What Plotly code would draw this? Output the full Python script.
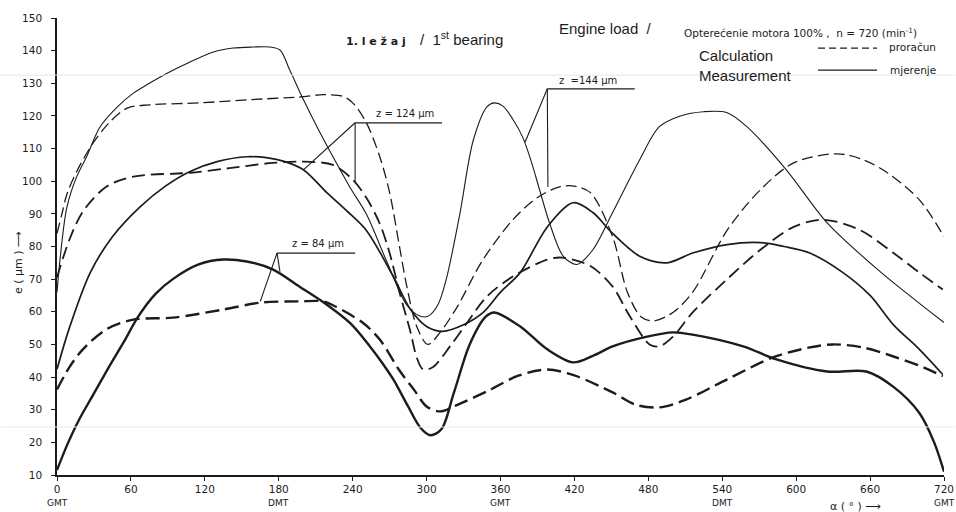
import plotly.graph_objects as go

# Crank angle (deg) and journal eccentricity e (µm), first main bearing
# z = 144 µm
meas_144_x = [0, 3, 8, 16, 24, 35, 49, 62, 75, 89, 105, 127, 143, 159, 173, 181, 189, 200, 211, 224,
              238, 251, 267, 284, 294, 301, 309, 316, 327, 338, 349, 355, 362, 370, 378, 385, 392, 400,
              411, 422, 435, 451, 473, 489, 506, 525, 544, 560, 592, 625, 666, 720]
meas_144_y = [66, 78, 92, 101.4, 107.5, 116.7, 122.8, 127, 130, 133, 136, 139.6, 140.8, 141.1, 141.1,
              140.2, 134, 125, 116.7, 107.5, 98, 90, 76, 62, 58.8, 58.6, 62, 70, 90, 112.7, 122.8, 124,
              123, 119, 113.5, 106, 97, 87, 77, 74.5, 79, 90.4, 106.6, 116.7, 120, 121.3, 121,
              116.7, 103.5, 87.3, 73, 56.7]
calc_144_x = [0, 4, 8, 16, 29.5, 43, 57, 75, 116, 157, 197, 216, 232, 240, 251, 262, 270, 278, 284,
              292, 301, 311, 325, 345, 370, 390, 408, 420, 433, 451, 463, 474, 484, 500, 516, 544, 571,
              598, 633, 655, 674, 700, 720]
calc_144_y = [84, 90, 96, 103, 111.8, 118.2, 122.4, 123.4, 124, 125, 125.8, 126.5, 126, 124, 118, 107.5,
              96.5, 80, 67.7, 55.5, 50, 53.7, 61.6, 75.5, 88.2, 95, 98.3, 98.5, 96.5, 83, 66, 58.5, 57.2,
              59.8, 66, 85, 97.4, 105.6, 108.4, 106.5, 102.6, 94.3, 83]

# z = 124 µm
meas_124_x = [0, 10, 27, 45, 67, 88, 108, 130, 154, 170, 185, 200, 219, 235, 251, 273, 287, 300, 313,
              330, 346, 360, 376, 398, 419, 435, 451, 473, 495, 516, 544, 571, 590, 611, 638, 660, 679,
              700, 719]
meas_124_y = [42.4, 55, 72, 83, 92, 98.5, 103, 106, 107.5, 107.2, 106, 103.5, 96.5, 91, 85, 70.8, 60.7,
              55.5, 54, 56, 59.8, 66, 72, 86, 93.4, 90.4, 84, 77, 75, 78, 80.6, 81.2, 80, 78, 72, 65,
              56, 48.5, 40.8]
calc_124_x = [0, 10, 21, 40, 62, 108, 140, 175, 197, 224, 240, 251, 262, 270, 278, 287, 292, 297, 305,
              319, 333, 349, 370, 398, 410, 433, 451, 465, 481, 489, 500, 516, 544, 571, 598, 622, 652,
              679, 700, 719]
calc_124_y = [70.5, 82, 90.7, 98.3, 101.4, 102.6, 104, 105.6, 106, 105, 100.5, 95, 87, 78, 66, 53.7,
              46, 42.4, 43, 49.4, 56.7, 64.7, 70.8, 76, 76.6, 74, 67.7, 58.6, 50, 49.4, 52.4, 59.8, 70,
              79, 86, 88.2, 85, 78, 72, 66.8]

# z = 84 µm
meas_84_x = [0, 8, 18, 30, 42, 54, 66, 80, 94, 115, 135, 154, 175, 197, 216, 238, 254, 262, 273, 285,
             295, 303, 312, 322, 335, 348, 355, 376, 398, 419, 435, 451, 479, 500, 516, 557, 584, 625,
             657, 679, 700, 712, 720]
meas_84_y = [11.5, 19, 27, 35, 43, 50.6, 58.6, 65.5, 70, 74.5, 76, 75.4, 73, 67.7, 63, 56.5, 49.4,
             45.4, 39.3, 31, 24.5, 22.2, 24, 35, 50, 58.5, 59.8, 55.5, 48.5, 44.5, 46.5, 49.4, 52.4,
             53.7, 53, 49.4, 45.4, 41.7, 41.7, 37, 29, 20, 11]
calc_84_x = [0, 10, 21, 40, 62, 94, 135, 165, 197, 216, 224, 248, 262, 278, 290, 300, 311, 325, 351,
             375, 398, 420, 451, 470, 489, 510, 544, 581, 610, 630, 655, 679, 700, 719]
calc_84_y = [36.2, 43, 48.5, 54.6, 57.6, 58.2, 60.7, 62.8, 63.2, 63.2, 62, 56.7, 51.5, 42, 36, 31, 29.5,
             31.5, 36, 40.5, 42.3, 40.5, 35.3, 31.5, 30.7, 33, 39.3, 46, 49, 50, 49, 46.3, 43.5, 40.3]

x_ticks = [0, 60, 120, 180, 240, 300, 360, 420, 480, 540, 600, 660, 720]
y_ticks = [10, 20, 30, 40, 50, 60, 70, 80, 90, 100, 110, 120, 130, 140, 150]
dead_centres = {0: "GMT", 180: "DMT", 360: "GMT", 540: "DMT", 720: "GMT"}

INK = "#1c1c1c"
STENCIL = "DejaVu Sans"
ARIAL = "Liberation Sans, Arial"

fig = go.Figure()

series = [
    (meas_144_x, meas_144_y, 1.1, "solid"),
    (calc_144_x, calc_144_y, 1.3, "11px,5px"),
    (meas_124_x, meas_124_y, 1.7, "solid"),
    (calc_124_x, calc_124_y, 1.8, "13px,6px"),
    (meas_84_x, meas_84_y, 2.4, "solid"),
    (calc_84_x, calc_84_y, 2.4, "14px,6px"),
]
for xs, ys, w, dash in series:
    fig.add_trace(go.Scatter(x=xs, y=ys, mode="lines",
                             line=dict(color=INK, width=w, dash=dash, shape="spline", smoothing=0.9),
                             hoverinfo="skip", showlegend=False))

# Leader lines for clearance labels (junction, horizontal rule end, curve pointers)
leaders = [
    ((242, 117.9), (312.5, 117.9), [(242, 99.8), (200, 103.5)]),
    ((398, 128.3), (469, 128.3), [(398.5, 98.2), (380, 112)]),
    ((178.6, 78), (242, 78), [(165, 63.2), (181, 72.3)]),
]
shapes = []
for (jx, jy), (hx, hy), ends in leaders:
    shapes.append(dict(type="line", xref="x", yref="y", x0=jx, y0=jy, x1=hx, y1=hy,
                       line=dict(color=INK, width=1.3)))
    for ex, ey in ends:
        shapes.append(dict(type="line", xref="x", yref="y", x0=jx, y0=jy, x1=ex, y1=ey,
                           line=dict(color=INK, width=1.1)))

# Legend line samples
shapes.append(dict(type="line", xref="paper", yref="paper", x0=0.858, x1=0.9245, y0=0.934, y1=0.934,
                   line=dict(color=INK, width=1.3, dash="7px,4px")))
shapes.append(dict(type="line", xref="paper", yref="paper", x0=0.858, x1=0.9245, y0=0.886, y1=0.886,
                   line=dict(color=INK, width=1.3)))

# faint scanner streaks
shapes.append(dict(type="line", xref="paper", yref="paper", x0=-0.064, x1=1.013, y0=0.875, y1=0.875,
                   line=dict(color="#e6e6e6", width=1)))
shapes.append(dict(type="line", xref="paper", yref="paper", x0=-0.064, x1=1.013, y0=0.105, y1=0.105,
                   line=dict(color="#ececec", width=1)))


def note(text, x, y, size, family=STENCIL, xanchor="center", ref="paper", **kw):
    return dict(text=text, x=x, y=y, xref=ref, yref=ref, xanchor=xanchor, yanchor="middle",
                showarrow=False, font=dict(family=family, size=size, color=INK), **kw)


annotations = [
    note("<b>1. l e ž a j</b>", 0.3597, 0.9475, 11),
    note("/  1<sup>st</sup> bearing", 0.4075, 0.956, 15, ARIAL, "left"),
    note("Engine load  /", 0.5637, 0.978, 15, ARIAL, "left"),
    note("Opterećenie motora 100% ,  n = 720 (min<sup>-1</sup>)", 0.7046, 0.969, 10.5, xanchor="left"),
    note("Calculation", 0.7215, 0.919, 15, ARIAL, "left"),
    note("Measurement", 0.7215, 0.875, 15, ARIAL, "left"),
    note("proračun", 0.9357, 0.9365, 10.5, xanchor="left"),
    note("mjerenje", 0.937, 0.886, 10.5, xanchor="left"),
    note("z = 124 µm", 282.5, 120.6, 10, ref="data"),
    note("z  =144 µm", 431, 130.8, 10, ref="data"),
    note("z = 84 µm", 212, 80.9, 10, ref="data"),
    note("e ( µm ) ⟶", -0.044, 0.466, 11, textangle=-90),
    note("α ( ° ) ⟶", 0.8997, -0.07, 11),
]
for a in annotations:
    if a["xref"] == "data":
        a["xref"], a["yref"] = "x", "y"
for deg, name in dead_centres.items():
    annotations.append(dict(text=name, x=deg, y=-0.0613, xref="x", yref="paper", showarrow=False,
                            xanchor="center", yanchor="middle",
                            font=dict(family=STENCIL, size=9, color=INK)))

fig.update_layout(
    width=956, height=512,
    margin=dict(l=57, r=12, t=18, b=37, autoexpand=False),
    paper_bgcolor="white", plot_bgcolor="white",
    shapes=shapes, annotations=annotations,
    xaxis=dict(range=[0, 720], tickvals=x_ticks, ticktext=[str(v) for v in x_ticks],
               showgrid=False, zeroline=False, showline=True, linecolor=INK, linewidth=1.5,
               ticks="outside", ticklen=4, tickcolor=INK, tickwidth=1.2,
               tickfont=dict(family=STENCIL, size=10.5, color=INK)),
    yaxis=dict(range=[10, 150], tickvals=y_ticks, showgrid=False, zeroline=False, showline=True,
               linecolor=INK, linewidth=1.5, ticks="outside", ticklen=4, tickcolor=INK,
               tickwidth=1.2, ticklabelstandoff=7,
               tickfont=dict(family=STENCIL, size=10.5, color=INK)),
)

fig.write_html("out.html")
